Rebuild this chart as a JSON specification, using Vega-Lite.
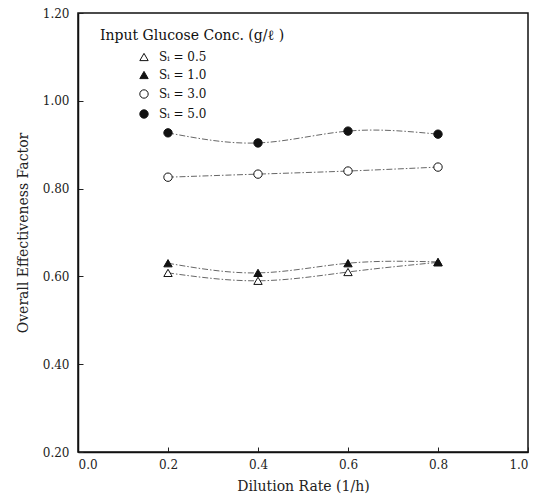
{
  "$schema": "https://vega.github.io/schema/vega-lite/v6.json",
  "width": 450,
  "height": 439,
  "autosize": "none",
  "padding": {"left": 78, "top": 13, "right": 15, "bottom": 51},
  "background": "white",
  "config": {
    "view": {"stroke": "#111", "strokeWidth": 1.5},
    "font": "DejaVu Serif",
    "axis": {"grid": false, "ticks": true, "domainColor": "#111", "domainWidth": 1.5, "tickColor": "#222", "tickWidth": 1, "labelFont": "DejaVu Serif", "titleFont": "DejaVu Serif", "labelColor": "#222", "titleColor": "#222", "labelFontSize": 12, "titleFontSize": 14, "titleFontWeight": "normal"}
  },
  "data": {
    "values": [
      {"s": "Sᵢ = 0.5", "d": 0.2, "e": 0.608},
      {"s": "Sᵢ = 0.5", "d": 0.4, "e": 0.590},
      {"s": "Sᵢ = 0.5", "d": 0.6, "e": 0.610},
      {"s": "Sᵢ = 0.5", "d": 0.8, "e": 0.632},
      {"s": "Sᵢ = 1.0", "d": 0.2, "e": 0.630},
      {"s": "Sᵢ = 1.0", "d": 0.4, "e": 0.608},
      {"s": "Sᵢ = 1.0", "d": 0.6, "e": 0.630},
      {"s": "Sᵢ = 1.0", "d": 0.8, "e": 0.633},
      {"s": "Sᵢ = 3.0", "d": 0.2, "e": 0.826},
      {"s": "Sᵢ = 3.0", "d": 0.4, "e": 0.833},
      {"s": "Sᵢ = 3.0", "d": 0.6, "e": 0.840},
      {"s": "Sᵢ = 3.0", "d": 0.8, "e": 0.849},
      {"s": "Sᵢ = 5.0", "d": 0.2, "e": 0.927},
      {"s": "Sᵢ = 5.0", "d": 0.4, "e": 0.904},
      {"s": "Sᵢ = 5.0", "d": 0.6, "e": 0.931},
      {"s": "Sᵢ = 5.0", "d": 0.8, "e": 0.924}
    ]
  },
  "encoding": {
    "x": {"field": "d", "type": "quantitative", "scale": {"domain": [0, 1], "nice": false},
      "axis": {"title": "Dilution Rate (1/h)", "values": [0, 0.2, 0.4, 0.6, 0.8, 1.0], "format": ".1f", "tickSize": -5, "labelPadding": 12, "titlePadding": 9}},
    "y": {"field": "e", "type": "quantitative", "scale": {"domain": [0.2, 1.2], "nice": false, "zero": false},
      "axis": {"title": "Overall Effectiveness Factor", "values": [0.2, 0.4, 0.6, 0.8, 1.0, 1.2], "format": ".2f", "tickSize": -5, "labelPadding": 14, "titlePadding": 12}}
  },
  "layer": [
    {
      "mark": {"type": "line", "interpolate": "natural", "color": "#555", "strokeWidth": 0.9, "strokeDash": [6, 2, 1.5, 2]},
      "encoding": {"detail": {"field": "s"}}
    },
    {
      "mark": {"type": "point", "filled": true, "stroke": "#111", "strokeWidth": 1, "opacity": 1},
      "encoding": {
        "shape": {"field": "s", "type": "nominal", "scale": {"domain": ["Sᵢ = 0.5", "Sᵢ = 1.0", "Sᵢ = 3.0", "Sᵢ = 5.0"], "range": ["triangle-up", "triangle-up", "circle", "circle"]},
          "legend": {"title": "Input Glucose Conc. (g/ℓ )", "titleLimit": 400, "orient": "none", "legendX": 22, "legendY": 16, "titleFontSize": 14, "titleFontWeight": "normal", "titleFont": "DejaVu Serif", "titleColor": "#111", "titlePadding": 8, "labelFont": "DejaVu Serif", "labelFontSize": 12, "labelColor": "#111", "symbolOffset": 38, "labelOffset": 9, "rowPadding": 6, "symbolStrokeColor": "#111", "symbolStrokeWidth": 1}},
        "fill": {"field": "s", "type": "nominal", "scale": {"domain": ["Sᵢ = 0.5", "Sᵢ = 1.0", "Sᵢ = 3.0", "Sᵢ = 5.0"], "range": ["white", "#111", "white", "#111"]}},
        "size": {"field": "s", "type": "nominal", "scale": {"domain": ["Sᵢ = 0.5", "Sᵢ = 1.0", "Sᵢ = 3.0", "Sᵢ = 5.0"], "range": [70, 70, 75, 100]}}
      }
    }
  ]
}
